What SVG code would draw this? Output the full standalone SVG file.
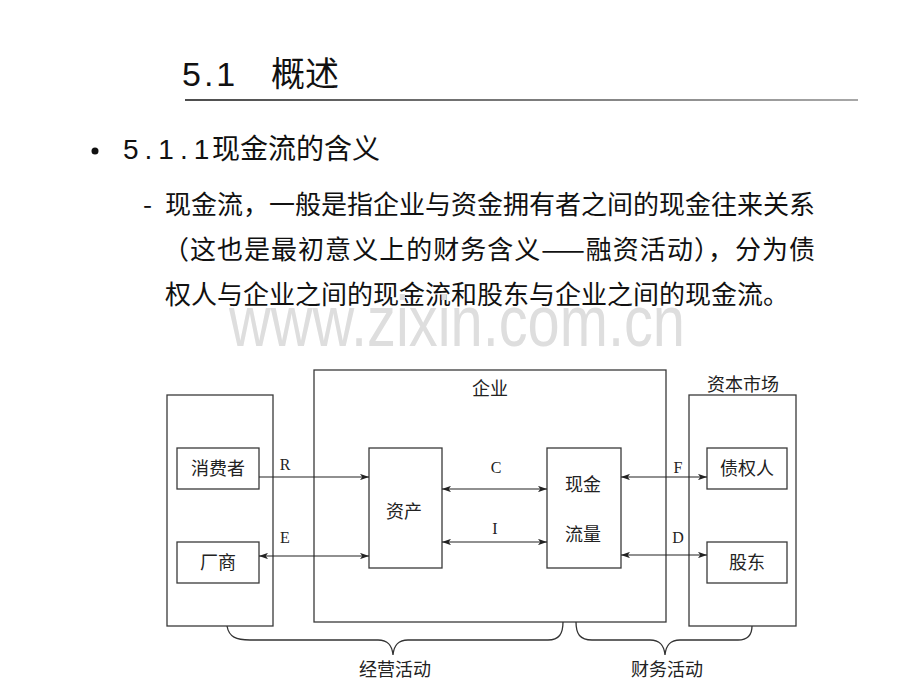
<svg xmlns="http://www.w3.org/2000/svg" width="920" height="690" viewBox="0 0 920 690">
<defs>
<linearGradient id="rule" gradientUnits="userSpaceOnUse" x1="185" y1="0" x2="858" y2="0">
<stop offset="0" stop-color="#111"/>
<stop offset="1" stop-color="#8a8a8a"/>
</linearGradient>
<marker id="ah" viewBox="0 0 10 7" refX="10" refY="3.5" markerWidth="9" markerHeight="6.3" markerUnits="userSpaceOnUse" orient="auto-start-reverse">
<path d="M0,0 L10,3.5 L0,7 L2.5,3.5 z" fill="#222"/>
</marker>
<style>
.hd{font-family:"Liberation Sans","Noto Sans CJK SC",sans-serif;fill:#111}
.body{font-family:"Noto Sans CJK SC",sans-serif;font-size:26px;fill:#111}
.box{fill:#fff;stroke:#3a3a3a;stroke-width:1.3}
.lb{font-family:"Liberation Serif","Noto Sans CJK SC",serif;font-size:18px;fill:#222;text-anchor:middle}
.lt{font-family:"Liberation Serif",serif;font-size:16px;fill:#222;text-anchor:middle}
.ar{stroke:#222;stroke-width:1.2;fill:none}
.br{stroke:#333;stroke-width:1.3;fill:none}
</style>
</defs>
<rect width="920" height="690" fill="#fff"/>
<g id="header">
<text class="hd" x="182" y="86" font-size="34"><tspan letter-spacing="3">5.1</tspan><tspan x="271">概述</tspan></text>
<line x1="185" y1="100" x2="858" y2="100" stroke="url(#rule)" stroke-width="1.5"/>
<circle cx="95" cy="151" r="3.5" fill="#111"/>
<text class="hd" x="123" y="159" font-size="28"><tspan letter-spacing="6">5.1.1</tspan><tspan x="212">现金流的含义</tspan></text>
<text class="body" x="143" y="214" font-family="Liberation Sans, sans-serif">-</text>
<text class="body" x="165" y="214" textLength="650" lengthAdjust="spacing">现金流，一般是指企业与资金拥有者之间的现金往来关系</text>
<text class="body" x="163" y="259" textLength="652" lengthAdjust="spacing">（这也是最初意义上的财务含义——融资活动），分为债</text>
<text class="body" x="165" y="304">权人与企业之间的现金流和股东与企业之间的现金流。</text>
<text x="229" y="277" transform="scale(1,1.25)" font-family="Liberation Sans, sans-serif" font-size="58" fill="#dedede" textLength="456" lengthAdjust="spacingAndGlyphs">www.zixin.com.cn</text>
</g>
<g id="market-left">
<rect class="box" x="167" y="395" width="106" height="231"/>
</g>
<g id="enterprise">
<rect class="box" x="314" y="370" width="352" height="252"/>
<text class="lb" x="490" y="395">企业</text>
</g>
<g id="capital-market">
<rect class="box" x="689" y="395" width="107" height="231"/>
<text class="lb" x="743" y="391">资本市场</text>
</g>
<g id="consumer">
<rect class="box" x="177" y="448" width="82" height="41"/>
<text class="lb" x="218" y="475">消费者</text>
</g>
<g id="vendor">
<rect class="box" x="177" y="542" width="82" height="41"/>
<text class="lb" x="218" y="569">厂商</text>
</g>
<g id="assets">
<rect class="box" x="369" y="448" width="73" height="120"/>
<text class="lb" x="404" y="518">资产</text>
</g>
<g id="cashflow">
<rect class="box" x="547" y="448" width="74" height="120"/>
<text class="lb" x="583" y="491">现金</text>
<text class="lb" x="583" y="541">流量</text>
</g>
<g id="creditor">
<rect class="box" x="707" y="448" width="80" height="41"/>
<text class="lb" x="747" y="475">债权人</text>
</g>
<g id="shareholder">
<rect class="box" x="707" y="542" width="80" height="41"/>
<text class="lb" x="747" y="569">股东</text>
</g>
<g id="connectors">
<line class="ar" x1="259" y1="477" x2="369" y2="477" marker-end="url(#ah)"/>
<line class="ar" x1="259" y1="556" x2="369" y2="556" marker-start="url(#ah)" marker-end="url(#ah)"/>
<line class="ar" x1="442" y1="489" x2="547" y2="489" marker-start="url(#ah)" marker-end="url(#ah)"/>
<line class="ar" x1="442" y1="542" x2="547" y2="542" marker-start="url(#ah)" marker-end="url(#ah)"/>
<line class="ar" x1="621" y1="477" x2="707" y2="477" marker-start="url(#ah)" marker-end="url(#ah)"/>
<line class="ar" x1="621" y1="555" x2="707" y2="555" marker-start="url(#ah)" marker-end="url(#ah)"/>
<text class="lt" x="285" y="470">R</text>
<text class="lt" x="285" y="543">E</text>
<text class="lt" x="496" y="473">C</text>
<text class="lt" x="495" y="534">I</text>
<text class="lt" x="678" y="473">F</text>
<text class="lt" x="678" y="543">D</text>
</g>
<g id="braces">
<path class="br" d="M227,626 C229,637 236,640 250,640 L378,640 C388,640 392,645 393,655 C394,645 398,640 408,640 L548,640 C559,640 563,634 563,622"/>
<path class="br" d="M576,622 C576,634 580,640 592,640 L650,640 C660,640 664,645 665,655 C666,645 670,640 680,640 L738,640 C749,640 752,634 752,626"/>
<text class="lb" x="395" y="676">经营活动</text>
<text class="lb" x="667" y="676">财务活动</text>
</g>
</svg>
